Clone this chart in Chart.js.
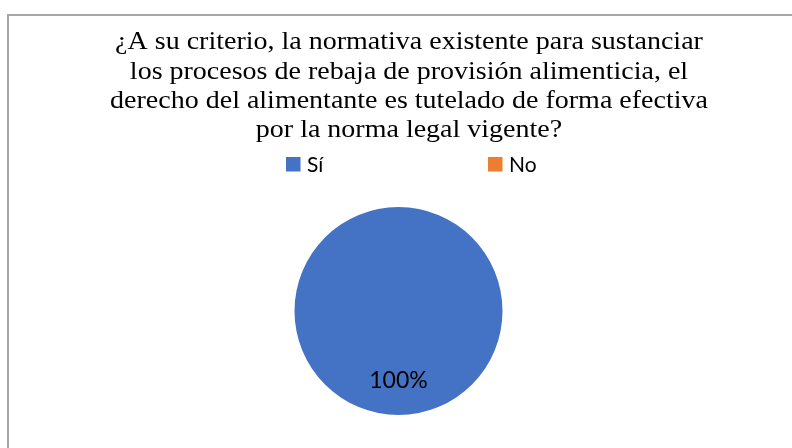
<!DOCTYPE html>
<html>
<head>
<meta charset="utf-8">
<script src="https://cdn.jsdelivr.net/npm/chart.js@4/dist/chart.umd.min.js"></script>
<style>
  html, body { margin: 0; padding: 0; background: #fff; }
  #wrap { position: relative; width: 792px; height: 448px; overflow: hidden; }
  #frame { position: absolute; left: 7px; top: 14px; width: 900px; height: 600px; border-left: 2px solid #a6a6a6; border-top: 2px solid #a6a6a6; }
  canvas { position: absolute; left: 0; top: 0; }
</style>
</head>
<body>
<div id="wrap">
  <div id="frame"></div>
  <canvas id="chart" width="792" height="448"></canvas>
</div>
<script>
const titleLines = [
    '¿A su criterio, la normativa existente para sustanciar',
    'los procesos de rebaja de provisión alimenticia, el',
    'derecho del alimentante es tutelado de forma efectiva',
    'por la norma legal vigente?'
];
const categories = ['Sí', 'No'];
const values = [100, 0];
const colors = ['#4472C4', '#ED7D31'];

// title + legend drawn by hand so they can sit off the pie's centre like Excel does
const headerPlugin = {
    id: 'header',
    afterDraw(chart) {
        const ctx = chart.ctx;
        ctx.save();
        ctx.fillStyle = '#000';
        ctx.textAlign = 'center';
        ctx.textBaseline = 'alphabetic';
        ctx.font = '25px "Liberation Serif", "Times New Roman", serif';
        const baselines = [49.3, 78.5, 107.7, 136.8];
        titleLines.forEach((line, i) => {
            ctx.save();
            ctx.translate(409, baselines[i]);
            ctx.scale(1.12, 1); // source image is stretched a bit horizontally
            ctx.fillText(line, 0, 0);
            ctx.restore();
        });

        const items = chart.options.plugins.legend.labels.generateLabels(chart);
        const legendX = [286, 488];
        ctx.textAlign = 'left';
        ctx.font = '21px Lato, "Open Sans", sans-serif';
        items.forEach((item, i) => {
            ctx.fillStyle = item.fillStyle;
            ctx.fillRect(legendX[i], 157, 14.5, 14.5);
            ctx.fillStyle = '#000';
            ctx.fillText(item.text, legendX[i] + 21, 171.5);
        });
        ctx.restore();
    }
};

const sliceLabels = {
    id: 'sliceLabels',
    afterDatasetsDraw(chart) {
        const ctx = chart.ctx;
        const meta = chart.getDatasetMeta(0);
        const data = chart.data.datasets[0].data;
        const total = data.reduce((a, b) => a + b, 0);
        ctx.save();
        ctx.fillStyle = '#000';
        ctx.textAlign = 'center';
        ctx.textBaseline = 'middle';
        ctx.font = '23px Lato, "Open Sans", sans-serif';
        meta.data.forEach((arc, i) => {
            if (!data[i]) return;
            const p = arc.getProps(['x', 'y', 'startAngle', 'endAngle', 'outerRadius'], true);
            const mid = (p.startAngle + p.endAngle) / 2;
            const r = p.outerRadius * 0.665;
            const pct = Math.round(data[i] / total * 100) + '%';
            ctx.fillText(pct, p.x + Math.cos(mid) * r, p.y + Math.sin(mid) * r);
        });
        ctx.restore();
    }
};

new Chart(document.getElementById('chart').getContext('2d'), {
    type: 'pie',
    data: {
        labels: categories,
        datasets: [{
            data: values,
            backgroundColor: colors,
            borderWidth: 0
        }]
    },
    options: {
        responsive: false,
        animation: false,
        layout: {
            padding: { top: 207, bottom: 33, left: 5, right: 0 }
        },
        plugins: {
            legend: { display: false },
            title: { display: false },
            tooltip: { enabled: false }
        }
    },
    plugins: [headerPlugin, sliceLabels]
});
</script>
</body>
</html>
